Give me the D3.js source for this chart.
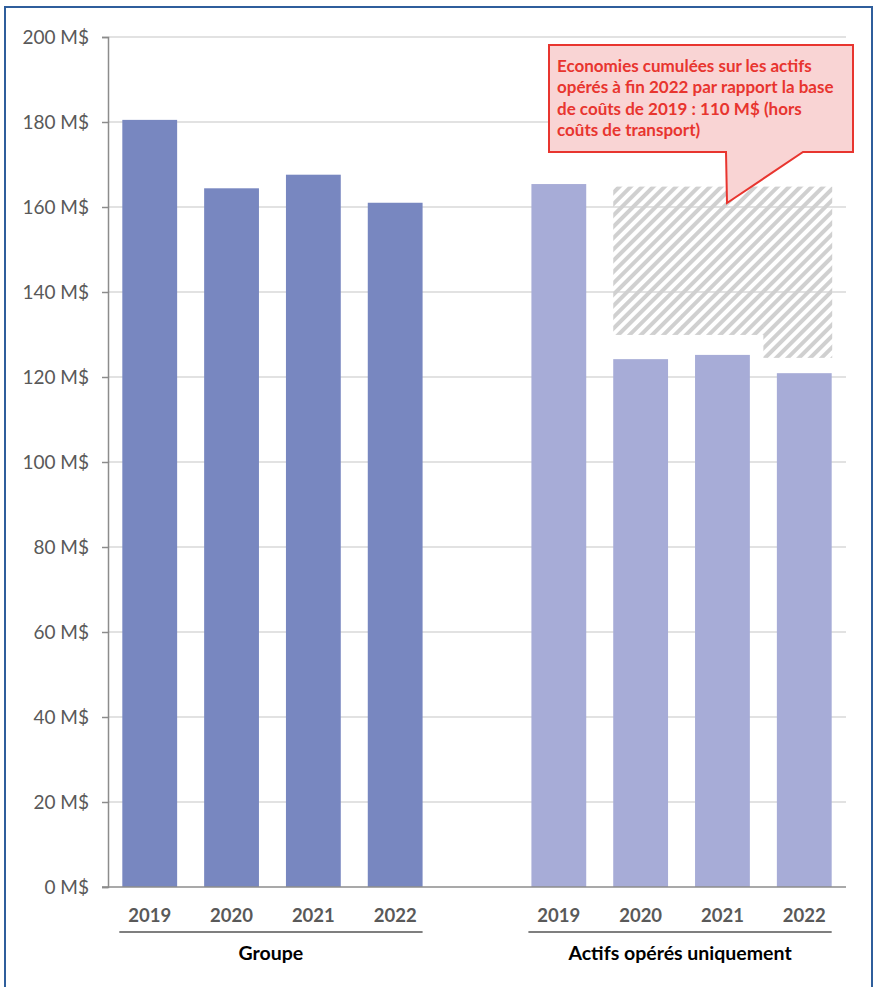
<!DOCTYPE html>
<html>
<head>
<meta charset="utf-8">
<script src="https://cdn.jsdelivr.net/npm/d3@7"></script>
<style>
  body { margin: 0; background: #fff; }
  svg { display: block; font-family: Lato, "Open Sans", sans-serif; }
</style>
</head>
<body>
<svg width="875" height="987"></svg>
<script>
const years = ["2019", "2020", "2021", "2022"];
const groups = ["Groupe", "Actifs opérés uniquement"];
const groupeValues = [180.5, 164.4, 167.6, 161.0];
const actifsValues = [165.4, 124.2, 125.2, 120.9];
// hatched "savings" area above the operated-assets bars
const hatchTop = 164.8;
const hatchBottoms = [null, 129.9, 129.9, 124.5];
const yTicks = [0, 20, 40, 60, 80, 100, 120, 140, 160, 180, 200];
const calloutLines = [
  "Economies cumulées sur les actifs",
  "opérés à fin 2022 par rapport la base",
  "de coûts de 2019 : 110 M$ (hors",
  "coûts de transport)"
];

const svg = d3.select("svg");

// frame
svg.append("rect")
  .attr("x", 5).attr("y", 7)
  .attr("width", 867).attr("height", 1000)
  .attr("fill", "none")
  .attr("stroke", "#2f5e9c")
  .attr("stroke-width", 2);

// slots: 4 bars, empty slot, 4 bars
const slots = years.map(y => "G" + y).concat(["gap"], years.map(y => "A" + y));

const x = d3.scaleBand()
  .domain(slots)
  .range([108, 846])
  .paddingInner(0.33)
  .paddingOuter(0.175);

const y = d3.scaleLinear()
  .domain([0, 200])
  .range([887, 37]);

// hatch pattern
const defs = svg.append("defs");
const pat = defs.append("pattern")
  .attr("id", "hatch")
  .attr("patternUnits", "userSpaceOnUse")
  .attr("width", 8).attr("height", 8)
  .attr("patternTransform", "rotate(45)");
pat.append("rect")
  .attr("x", 0).attr("y", 0)
  .attr("width", 4).attr("height", 8)
  .attr("fill", "#d0d0d0");

// gridlines
svg.append("g")
  .selectAll("line")
  .data(yTicks.filter(d => d > 0))
  .join("line")
  .attr("x1", 108).attr("x2", 846)
  .attr("y1", d => y(d)).attr("y2", d => y(d))
  .attr("stroke", "#d9d9d9")
  .attr("stroke-width", 1.5);

// bars
const barData = years.map((yr, i) => ({ key: "G" + yr, v: groupeValues[i], c: "#7887c0" }))
  .concat(years.map((yr, i) => ({ key: "A" + yr, v: actifsValues[i], c: "#a7acd7" })));

svg.append("g")
  .selectAll("rect")
  .data(barData)
  .join("rect")
  .attr("x", d => x(d.key))
  .attr("y", d => y(d.v))
  .attr("width", x.bandwidth())
  .attr("height", d => y(0) - y(d.v))
  .attr("fill", d => d.c);

// hatched area
const gapW = x.step() - x.bandwidth();
const hatchData = years.map((yr, i) => ({ key: "A" + yr, b: hatchBottoms[i], i }))
  .filter(d => d.b !== null);
const firstH = hatchData[0].i, lastH = hatchData[hatchData.length - 1].i;
svg.append("g")
  .selectAll("rect")
  .data(hatchData)
  .join("rect")
  .attr("x", d => x(d.key) - (d.i === firstH ? 0 : gapW / 2))
  .attr("width", d => x.bandwidth() + (d.i === firstH ? 0 : gapW / 2) + (d.i === lastH ? 0 : gapW / 2) + 0.5)
  .attr("y", y(hatchTop))
  .attr("height", d => y(d.b) - y(hatchTop))
  .attr("fill", "url(#hatch)");

// y axis
const yAxis = svg.append("g")
  .attr("transform", "translate(108,0)")
  .call(d3.axisLeft(y).tickValues(yTicks).tickSize(6).tickPadding(13).tickFormat(d => d + " M$"));
yAxis.select(".domain").attr("stroke", "#8c8c8c").attr("stroke-width", 1.5);
yAxis.selectAll(".tick line").attr("stroke", "#8c8c8c").attr("stroke-width", 1.5);
yAxis.selectAll(".tick text")
  .attr("fill", "#595959")
  .style("font-size", "19px")
  .style("font-family", "Lato, sans-serif");

// x baseline
svg.append("line")
  .attr("x1", 102).attr("x2", 846)
  .attr("y1", y(0)).attr("y2", y(0))
  .attr("stroke", "#8c8c8c")
  .attr("stroke-width", 1.5);

// year labels
svg.append("g")
  .selectAll("text")
  .data(barData)
  .join("text")
  .attr("x", d => x(d.key) + x.bandwidth() / 2)
  .attr("y", 922)
  .attr("text-anchor", "middle")
  .attr("fill", "#595959")
  .style("font-size", "18.5px")
  .style("font-weight", "bold")
  .text(d => d.key.slice(1));

// group underline + label
groups.forEach((g, gi) => {
  const pre = gi === 0 ? "G" : "A";
  const x0 = x(pre + years[0]) - 3;
  const x1 = x(pre + years[years.length - 1]) + x.bandwidth();
  svg.append("line")
    .attr("x1", x0).attr("x2", x1)
    .attr("y1", 932).attr("y2", 932)
    .attr("stroke", "#7f7f7f")
    .attr("stroke-width", 2);
  svg.append("text")
    .attr("x", (x0 + x1) / 2)
    .attr("y", 960)
    .attr("text-anchor", "middle")
    .attr("fill", "#000")
    .style("font-size", "19.5px")
    .style("font-weight", "bold")
    .text(g);
});

// callout
const cx0 = 549, cx1 = 853, cy0 = 45, cy1 = 152;
svg.append("path")
  .attr("d", `M${cx0},${cy0}H${cx1}V${cy1}H803L727,203L726,${cy1}H${cx0}Z`)
  .attr("fill", "#f9d4d4")
  .attr("stroke", "#e8352f")
  .attr("stroke-width", 2)
  .attr("stroke-linejoin", "miter");

svg.append("g")
  .selectAll("text")
  .data(calloutLines)
  .join("text")
  .attr("x", 557)
  .attr("y", (d, i) => 72 + i * 21.4)
  .attr("fill", "#e8352f")
  .style("font-size", "17px")
  .style("font-weight", "bold")
  .text(d => d);
</script>
</body>
</html>
